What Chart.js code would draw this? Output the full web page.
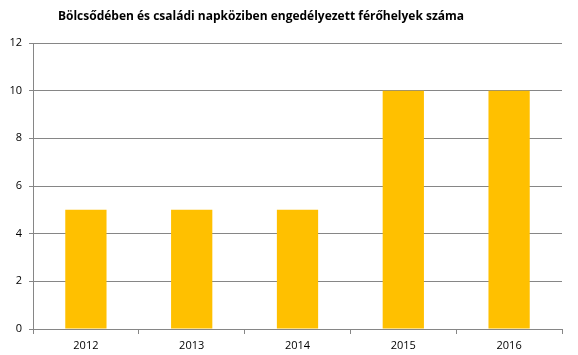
<!DOCTYPE html>
<html>
<head>
<meta charset="utf-8">
<script src="https://cdn.jsdelivr.net/npm/chart.js@4"></script>
<style>
html,body{margin:0;padding:0;background:#fff;}
#wrap{width:578px;height:355px;position:relative;}
</style>
</head>
<body>
<div id="wrap"><canvas id="c"></canvas></div>
<script>
const titleText = "Bölcsődében és családi napköziben engedélyezett férőhelyek száma";
const categories = ["2012", "2013", "2014", "2015", "2016"];
const values = [5, 5, 5, 10, 10];
const yTicks = [0, 2, 4, 6, 8, 10, 12];

const gridColor = "#868686";
const titlePlugin = {
  id: "offsetTitle",
  afterDraw(chart) {
    const ctx = chart.ctx;
    ctx.save();
    ctx.font = "bold 12px 'Open Sans', sans-serif";
    ctx.fillStyle = "#000";
    ctx.textAlign = "center";
    ctx.textBaseline = "middle";
    ctx.fillText(titleText, 261, 17);
    ctx.restore();
  }
};
new Chart(document.getElementById("c"), {
  type: "bar",
  data: {
    labels: categories,
    datasets: [{
      data: values,
      backgroundColor: "#FFC000",
      borderWidth: 0,
      barPercentage: 0.39,
      categoryPercentage: 1
    }]
  },
  plugins: [titlePlugin],
  options: {
    responsive: true,
    maintainAspectRatio: false,
    animation: false,
    layout: { padding: { left: 0, right: 16, top: 43, bottom: 0 } },
    plugins: {
      legend: { display: false },
      tooltip: { enabled: false },
      title: { display: false }
    },
    scales: {
      x: {
        grid: { display: true, drawOnChartArea: false, drawTicks: true, tickLength: 5, color: gridColor, offset: true },
        border: { display: true, color: gridColor, width: 1 },
        ticks: { color: "#000", font: { family: "'Open Sans', sans-serif", size: 11 }, padding: 5, maxRotation: 0 },
        afterFit: s => { s.height = 26; }
      },
      y: {
        min: 0, max: 12,
        afterBuildTicks: s => { s.ticks = yTicks.map(v => ({ value: v })); },
        grid: { color: gridColor, tickLength: 4, drawTicks: true },
        border: { display: true, color: gridColor, width: 1 },
        ticks: { color: "#000", font: { family: "'Open Sans', sans-serif", size: 11 }, padding: 7 },
        afterFit: s => { s.width = 33; }
      }
    }
  }
});
</script>
</body>
</html>
